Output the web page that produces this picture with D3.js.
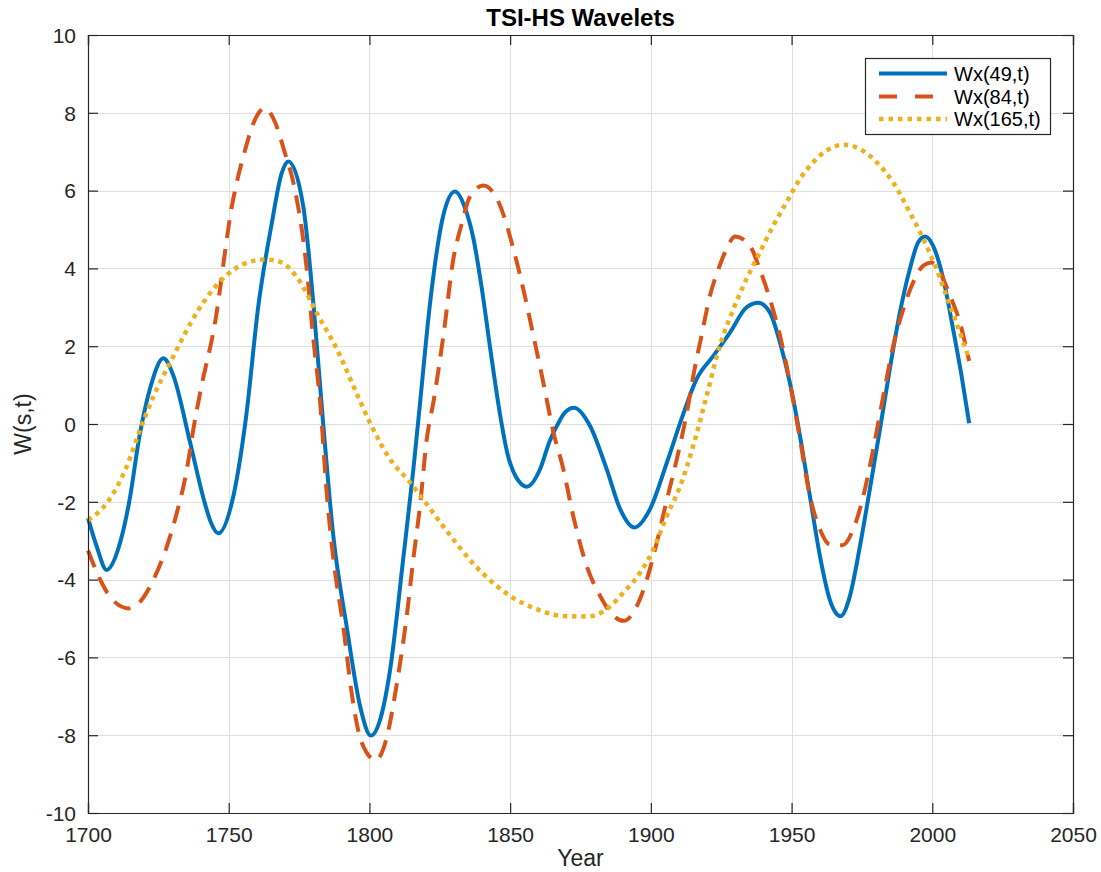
<!DOCTYPE html>
<html>
<head>
<meta charset="utf-8">
<script src="https://cdn.jsdelivr.net/npm/d3@7"></script>
<style>
  html, body { margin: 0; padding: 0; background: #fff; }
  svg { display: block; font-family: "Liberation Sans", Arial, Helvetica, sans-serif; }
</style>
</head>
<body>
<svg id="chart" width="1101" height="872"></svg>
<script>
// ---- Data ----
const title = "TSI-HS Wavelets";
const xLabel = "Year";
const yLabel = "W(s,t)";
const xTicks = [1700, 1750, 1800, 1850, 1900, 1950, 2000, 2050];
const yTicks = [-10, -8, -6, -4, -2, 0, 2, 4, 6, 8, 10];
const seriesNames = ["Wx(49,t)", "Wx(84,t)", "Wx(165,t)"];

const years49 = [1700, 1703.1, 1706.6, 1711.4, 1714.9, 1718.2, 1722, 1726.8, 1730.3, 1736.2, 1741, 1743.5, 1746.3,
  1751.6, 1756.2, 1760.5, 1765.3, 1768.8, 1771.2, 1776.5, 1780.1, 1783.6, 1787.2, 1791.9, 1796.7, 1800.5,
  1804, 1807.3, 1812, 1815.6, 1818, 1821.5, 1826.3, 1830.4, 1834, 1837, 1840, 1843, 1846.4, 1849, 1852, 1855.9,
  1860.7, 1864, 1866.6, 1869.5, 1872.7, 1878.4, 1884.3, 1889.1, 1894.1, 1899.7, 1905.7, 1911, 1916.2, 1922.2, 1928.1,
  1934, 1938.2, 1942.3, 1945.9, 1949.4, 1953, 1956.5, 1960.1, 1963.6, 1967.4, 1970.7, 1974.3, 1977.8,
  1981.4, 1984.9, 1988.5, 1992, 1995, 1997.4, 2000.3, 2003.9, 2007.4, 2010.4, 2013.1];
const w49 = [-2.42, -3.15, -3.75, -3.05, -1.9, -0.35, 0.9, 1.69, 1.25, -0.45, -1.9, -2.5, -2.81,
  -1.87, 0.2, 3.02, 5.16, 6.44, 6.75, 5.59, 3.08, -0.02, -2.9, -5.2, -7.26, -8.01,
  -7.55, -6.34, -3.47, -1.17, 0.55, 3.08, 5.38, 5.98, 5.55, 4.75, 3.45, 1.9, 0.25, -0.75, -1.35, -1.61,
  -1.15, -0.45, -0.05, 0.3, 0.42, -0.05, -1.16, -2.19, -2.66, -2.19, -0.99, 0.15, 1.15, 1.75, 2.35,
  3.0, 3.12, 2.87, 2.09, 1.06, -0.31, -1.85, -3.4, -4.52, -4.94, -4.43, -3.14, -1.68,
  -0.14, 1.41, 2.87, 3.98, 4.67, 4.82, 4.58, 3.73, 2.44, 1.24, 0.02];

const years84 = [1700, 1704, 1707.8, 1714.3, 1718.5, 1723.2, 1728, 1731.5, 1735.1, 1737.4, 1739.8, 1745.1,
  1751.1, 1755.8, 1759.5, 1762.9, 1766.5, 1770, 1773, 1777.7, 1780.1, 1782.5, 1784.8, 1787.2, 1790.7,
  1793.7, 1797.2, 1802.3, 1806.1, 1809.7, 1813.2, 1815.6, 1818, 1820.4, 1822.7, 1826.3, 1829.8, 1832.8,
  1835.7, 1840.5, 1845.8, 1851.2, 1854.7, 1858.3, 1861.8, 1865.4, 1868.9, 1872.4, 1877.2, 1882, 1886.7,
  1890.3, 1895, 1898.6, 1902.1, 1905.7, 1909.2, 1912.8, 1915.5, 1918, 1921, 1924, 1926.9, 1929.9,
  1935.2, 1938.7, 1942.3, 1945.9, 1949.4, 1953, 1956.5, 1960.1, 1963.6, 1968, 1971.9, 1975.5, 1979,
  1982.6, 1986.1, 1989.7, 1993.2, 1996.8, 1999.7, 2002.7, 2006.3, 2009.8, 2013.1];
const w84 = [-3.25, -3.95, -4.44, -4.74, -4.57, -4.01, -3.15, -2.3, -1.18, -0.15, 0.79, 2.59,
  5.59, 7.04, 7.85, 8.12, 7.75, 6.96, 6.2, 4.0, 2.16, 0.55, -1.75, -3.47, -5.2,
  -6.92, -8.18, -8.64, -8.07, -6.69, -4.97, -3.47, -2.09, -0.37, 0.55, 2.28, 4.23, 5.15,
  5.84, 6.13, 5.72, 4.49, 3.46, 2.26, 1.06, -0.22, -1.16, -2.36, -3.65, -4.42, -4.93,
  -5.06, -4.68, -3.99, -3.05, -1.94, -0.91, 0.3, 1.4, 2.27, 3.3, 3.98, 4.5, 4.82,
  4.58, 3.98, 3.21, 2.27, 1.06, -0.39, -1.85, -2.71, -3.1, -3.12, -2.71, -1.85, -0.65,
  0.72, 2.01, 2.95, 3.64, 4.07, 4.15, 3.9, 3.3, 2.61, 1.62];

const years165 = [1700, 1706.6, 1713.7, 1718.5, 1723.2, 1729.7, 1739.2, 1748.7, 1755, 1762.9, 1768.2,
  1775.3, 1781.3, 1788.4, 1795.5, 1800.2, 1807.3, 1814.4, 1819.2, 1827.5, 1836.9, 1845.2, 1850, 1859.5,
  1867.8, 1877.2, 1884.3, 1890.3, 1896.2, 1900.9, 1905.7, 1910.4, 1915.1, 1919.8, 1924.5, 1929.3, 1934,
  1938.7, 1943.5, 1948.2, 1953, 1957.7, 1962.4, 1968.4, 1974.3, 1980.2, 1986.1, 1992, 1996.8, 2001.5,
  2006.3, 2009.8, 2013.1];
const w165 = [-2.47, -2.04, -1.1, -0.15, 0.7, 1.65, 2.93, 3.79, 4.1, 4.23, 4.17,
  3.66, 2.85, 1.93, 0.78, 0.03, -0.9, -1.5, -1.95, -2.75, -3.59, -4.16, -4.42, -4.76,
  -4.93, -4.95, -4.76, -4.33, -3.82, -3.22, -2.36, -1.6, -0.55, 0.72, 2.01, 2.95, 3.73,
  4.41, 5.1, 5.7, 6.3, 6.73, 7.03, 7.18, 7.07, 6.73, 6.21, 5.44, 4.76, 3.98,
  3.04, 2.35, 1.67];

// ---- Layout & styles ----
const margin = { left: 88, right: 1101 - 1073, top: 35, bottom: 872 - 813 };
const W = 1101, H = 872;
const axisColor = "#262626";
const gridColor = "#dfdfdf";
const colors = ["#0072BD", "#D95319", "#EDB120"];
const widths = [4, 4, 4.5];
const dashes = [null, "18,11", "4.5,4.7"];
const legendDashes = [null, "18,18", "4.5,5"];

const svg = d3.select("#chart");
const x = d3.scaleLinear().domain([1700, 2050]).range([margin.left, W - margin.right]);
const y = d3.scaleLinear().domain([-10, 10]).range([H - margin.bottom, margin.top]);
const x0 = x.range()[0], x1 = x.range()[1], y0 = y.range()[0], y1 = y.range()[1];

// Grid
const grid = svg.append("g");
grid.selectAll("line.gx").data(xTicks.slice(1, -1)).join("line")
  .attr("x1", d => Math.round(x(d)) + 0.5).attr("x2", d => Math.round(x(d)) + 0.5)
  .attr("y1", y1).attr("y2", y0).attr("stroke", gridColor).attr("stroke-width", 1);
grid.selectAll("line.gy").data(yTicks.slice(1, -1)).join("line")
  .attr("y1", d => Math.round(y(d)) + 0.5).attr("y2", d => Math.round(y(d)) + 0.5)
  .attr("x1", x0).attr("x2", x1).attr("stroke", gridColor).attr("stroke-width", 1);

// Series
const seriesData = [
  d3.zip(years49, w49),
  d3.zip(years84, w84),
  d3.zip(years165, w165)
];
const line = d3.line().x(d => x(d[0])).y(d => y(d[1])).curve(d3.curveMonotoneX);
seriesData.forEach((data, i) => {
  svg.append("path")
    .attr("d", line(data))
    .attr("fill", "none")
    .attr("stroke", colors[i])
    .attr("stroke-width", widths[i])
    .attr("stroke-dasharray", dashes[i])
    .attr("stroke-linejoin", "round")
    .attr("stroke-linecap", "butt");
});

// Axes (MATLAB style box with inward ticks)
const tickLen = 10;
const fmt = d => String(d);
const axB = svg.append("g").attr("transform", `translate(0,${y0})`)
  .call(d3.axisBottom(x).tickValues(xTicks).tickSize(-tickLen).tickPadding(14).tickFormat(fmt));
const axT = svg.append("g").attr("transform", `translate(0,${y1})`)
  .call(d3.axisTop(x).tickValues(xTicks).tickSize(-tickLen).tickFormat(""));
const axL = svg.append("g").attr("transform", `translate(${x0},0)`)
  .call(d3.axisLeft(y).tickValues(yTicks).tickSize(-tickLen).tickPadding(12).tickFormat(fmt));
const axR = svg.append("g").attr("transform", `translate(${x1},0)`)
  .call(d3.axisRight(y).tickValues(yTicks).tickSize(-tickLen).tickFormat(""));
[axB, axT, axL, axR].forEach(a => {
  a.select(".domain").attr("stroke", axisColor).attr("stroke-width", 1.2);
  a.selectAll(".tick line").attr("stroke", axisColor).attr("stroke-width", 1.2);
  a.selectAll(".tick text").attr("fill", axisColor)
    .style("font-size", "21px").style("font-family", "'Liberation Sans', Arial, Helvetica, sans-serif");
});
axB.selectAll(".tick text").attr("dy", "0.71em");
axL.selectAll(".tick text").attr("dy", "0.35em");

// Title & labels
svg.append("text").attr("x", (x0 + x1) / 2).attr("y", 26)
  .attr("text-anchor", "middle").attr("font-weight", "bold").attr("font-size", "24px")
  .attr("fill", "#000").text(title);
svg.append("text").attr("x", (x0 + x1) / 2).attr("y", 866)
  .attr("text-anchor", "middle").attr("font-size", "23px").attr("fill", axisColor).text(xLabel);
svg.append("text").attr("transform", `translate(31,${(y0 + y1) / 2}) rotate(-90)`)
  .attr("text-anchor", "middle").attr("font-size", "23px").attr("fill", axisColor).text(yLabel);

// Legend
const lg = svg.append("g");
const lgX = 865, lgY = 58, lgW = 185, lgH = 76;
lg.append("rect").attr("x", lgX + 0.5).attr("y", lgY + 0.5).attr("width", lgW).attr("height", lgH)
  .attr("fill", "#fff").attr("stroke", axisColor).attr("stroke-width", 1.2);
const rowY = [73.5, 96.5, 119];
seriesNames.forEach((name, i) => {
  lg.append("line").attr("x1", 879).attr("x2", 947).attr("y1", rowY[i]).attr("y2", rowY[i])
    .attr("stroke", colors[i]).attr("stroke-width", widths[i]).attr("stroke-dasharray", legendDashes[i]);
  lg.append("text").attr("x", 954).attr("y", rowY[i]).attr("dy", "0.35em")
    .attr("font-size", "20px").attr("fill", "#000").text(name);
});
</script>
</body>
</html>
